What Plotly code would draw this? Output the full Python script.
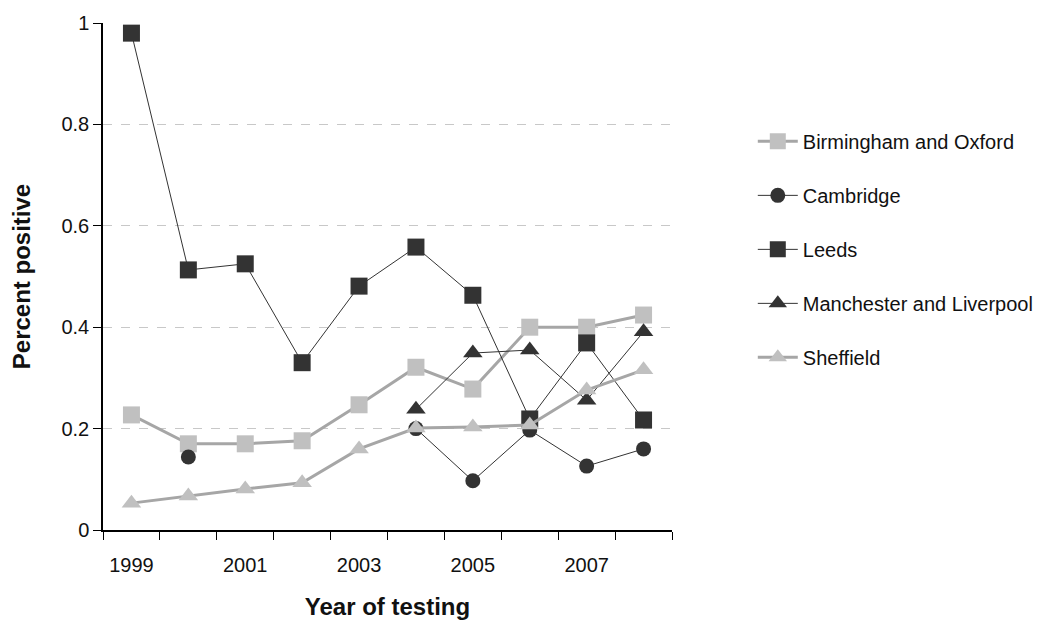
import plotly.graph_objects as go

years = [1999, 2000, 2001, 2002, 2003, 2004, 2005, 2006, 2007, 2008]
birmingham_oxford = [0.227, 0.170, 0.170, 0.176, 0.247, 0.321, 0.278, 0.400, 0.400, 0.424]
cambridge = [None, 0.144, None, None, None, 0.200, 0.097, 0.197, 0.126, 0.160]
leeds = [0.980, 0.513, 0.525, 0.330, 0.481, 0.558, 0.463, 0.219, 0.369, 0.217]
manchester_liverpool = [None, None, None, None, None, 0.238, 0.349, 0.355, 0.256, 0.391]
sheffield = [0.053, 0.067, 0.081, 0.093, 0.160, 0.201, 0.203, 0.207, 0.276, 0.316]

tick_years = [1999, 2001, 2003, 2005, 2007]
y_ticks = [0, 0.2, 0.4, 0.6, 0.8, 1]
y_ticktext = ["0", "0.2", "0.4", "0.6", "0.8", "1"]

DARK = "#333333"
LIGHT_M = "#c0c0c0"
LIGHT_L = "#a6a6a6"
FONT = "Liberation Sans, Arial, sans-serif"

series = [
    ("Birmingham and Oxford", birmingham_oxford, "square", 17, LIGHT_M, LIGHT_L, 3),
    ("Cambridge", cambridge, "circle", 15, DARK, DARK, 1),
    ("Leeds", leeds, "square", 17, DARK, DARK, 1),
    ("Manchester and Liverpool", manchester_liverpool, "triangle-up", 17, DARK, DARK, 1),
    ("Sheffield", sheffield, "triangle-up", 17, LIGHT_M, LIGHT_L, 3),
]

fig = go.Figure()
for name, vals, sym, size, mcol, lcol, lw in series:
    fig.add_trace(go.Scatter(
        x=years, y=vals, name=name, mode="lines+markers",
        connectgaps=False, legendgroup=name,
        line=dict(color=lcol, width=lw),
        marker=dict(symbol=sym, size=size, color=mcol, line=dict(width=0)),
    ))

fig.update_layout(
    width=1056, height=628,
    paper_bgcolor="white", plot_bgcolor="white",
    margin=dict(l=95, r=392, t=15, b=106, autoexpand=False),
    font=dict(family=FONT, size=20, color="#111111"),
    legend=dict(x=1.142, y=0.805, xanchor="left", yanchor="top",
                font=dict(size=20, family=FONT, color="#111111"),
                tracegroupgap=25, itemwidth=40, bgcolor="rgba(0,0,0,0)"),
    showlegend=True,
)
fig.update_xaxes(
    range=[1998.5, 2008.5], tickvals=tick_years, ticktext=[str(t) for t in tick_years],
    showgrid=False, zeroline=False, showline=True, linecolor="#000000", linewidth=1.5,
    ticks="", tickfont=dict(size=20, family=FONT), ticklabelstandoff=16,
    minor=dict(tickvals=[y + 0.5 for y in [1998] + years], ticks="outside",
               ticklen=8, tickcolor="#000000", tickwidth=1, showgrid=False),
    title=dict(text="<b>Year of testing</b>", font=dict(size=24, family=FONT), standoff=23),
)
fig.update_yaxes(
    range=[0, 1], tickvals=y_ticks, ticktext=y_ticktext,
    showgrid=True, gridcolor="#c8c8c8", griddash="dash", gridwidth=1,
    zeroline=False, showline=True, linecolor="#000000", linewidth=1.5,
    ticks="outside", ticklen=8, tickcolor="#000000",
    tickfont=dict(size=20, family=FONT),
    title=dict(text="<b>Percent positive</b>", font=dict(size=24, family=FONT), standoff=24),
)

fig.write_html("out.html")
